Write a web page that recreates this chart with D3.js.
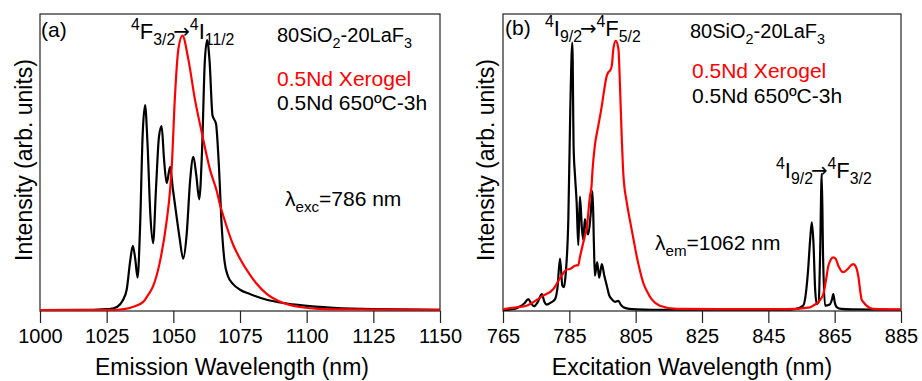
<!DOCTYPE html>
<html>
<head>
<meta charset="utf-8">
<script src="https://cdn.jsdelivr.net/npm/d3@7"></script>
<style>
  body { margin: 0; background: #fff; }
  svg { display: block; font-family: "Liberation Sans", Arial, sans-serif; }
</style>
</head>
<body>
<div id="chart"></div>
<script>
//------------------------------------------------------
// Data (wavelength nm, normalised intensity)
//------------------------------------------------------

const emTicks = [1000, 1025, 1050, 1075, 1100, 1125, 1150];
const exTicks = [765, 785, 805, 825, 845, 865, 885];

// (a) emission, xerogel (red)
const emXerogel = [
  [1000, 0], [1028, 0], [1032, 0.004], [1035, 0.012], [1038.7, 0.03], [1040.5, 0.055],
  [1042.5, 0.09], [1045, 0.18], [1047.5, 0.33], [1048.75, 0.44], [1049.4, 0.53],
  [1050.6, 0.79], [1051.9, 0.967], [1053.4, 1.016], [1055.6, 0.93], [1058.1, 0.78],
  [1060.6, 0.66], [1063.75, 0.52], [1066.3, 0.44], [1067.5, 0.39], [1068.7, 0.35],
  [1072.5, 0.24], [1075, 0.19], [1078.75, 0.13], [1081, 0.1], [1085, 0.06],
  [1091, 0.027], [1097.5, 0.011], [1105, 0.004], [1112, 0.002], [1150, 0.001]
];

// (a) emission, 650C-3h (black)
const emHeat = [
  [1000, 0], [1020, 0.001], [1026, 0.003], [1029, 0.012], [1031, 0.035], [1032.5, 0.075],
  [1033.8, 0.18], [1034.8, 0.238], [1035.7, 0.19], [1036.6, 0.12], [1037.5, 0.3],
  [1038.5, 0.65], [1039.4, 0.759], [1040.3, 0.62], [1041.4, 0.35], [1042.4, 0.248],
  [1043.5, 0.45], [1044.6, 0.64], [1045.6, 0.681], [1046.5, 0.56], [1047.5, 0.47],
  [1048.8, 0.53], [1049.8, 0.45], [1050.9, 0.37], [1052.3, 0.27], [1053.7, 0.19],
  [1055, 0.28], [1056.3, 0.48], [1057.5, 0.567], [1058.6, 0.5], [1059.7, 0.41],
  [1060.8, 0.6], [1061.8, 0.92], [1062.7, 1.0], [1063.6, 0.92], [1064.7, 0.72],
  [1066, 0.69], [1067, 0.55], [1068.2, 0.3], [1069.2, 0.18], [1070.5, 0.125],
  [1072.5, 0.095], [1075, 0.075], [1078.7, 0.059], [1085, 0.038], [1092, 0.025],
  [1097.5, 0.018], [1110, 0.008], [1125, 0.003], [1150, 0.001]
];

// (b) excitation, xerogel (red)
const exXerogel = [
  [765, 0.002], [765.6, 0.004], [769, 0.01], [772.1, 0.016], [777.1, 0.053], [780.2, 0.078],
  [782.2, 0.118], [784.2, 0.15], [785.2, 0.152], [786.7, 0.164], [787.7, 0.166],
  [788.2, 0.196], [789.7, 0.275], [790.2, 0.3], [791.2, 0.42], [791.7, 0.46],
  [792.0, 0.52], [792.7, 0.61], [793.7, 0.68], [794.8, 0.757], [795.2, 0.79],
  [796.3, 0.868], [796.7, 0.88], [797.3, 0.887], [797.8, 0.905], [798.3, 0.97],
  [799.0, 0.997], [799.8, 0.967], [800.3, 0.82], [800.8, 0.64], [801.3, 0.5],
  [802.3, 0.4], [803.3, 0.33], [804.3, 0.265], [805.3, 0.2], [806.3, 0.145],
  [807.3, 0.1], [808.6, 0.065], [809.8, 0.04], [812.3, 0.016], [817.4, 0.004],
  [830, 0.003], [850, 0.003], [857.6, 0.01], [858.5, 0.016], [860.5, 0.035],
  [861.6, 0.06], [862.6, 0.127], [863.1, 0.164], [864.6, 0.195], [865.3, 0.19],
  [866.1, 0.164], [867.6, 0.14], [868.8, 0.15], [870.1, 0.167], [870.6, 0.17],
  [871.4, 0.16], [872.1, 0.127], [873.1, 0.04], [873.6, 0.03], [874.6, 0.016],
  [876.6, 0.004], [885, 0.002]
];

// (b) excitation, 650C-3h (black)
const exHeat = [
  [765, 0], [768, 0.003], [770, 0.012], [771.5, 0.025], [772.6, 0.04], [773.5, 0.025],
  [774.3, 0.014], [775.5, 0.03], [776.7, 0.059], [777.5, 0.03], [778.2, 0.02],
  [779.5, 0.028], [780.7, 0.04], [781.4, 0.08], [782.2, 0.19], [782.9, 0.09],
  [783.4, 0.085], [783.8, 0.12], [784.7, 0.337], [785.3, 0.75], [785.9, 0.99],
  [786.3, 0.6], [786.7, 0.5], [787.2, 0.4], [787.7, 0.24], [788.2, 0.42],
  [788.8, 0.3], [789.2, 0.26], [789.7, 0.337], [790.2, 0.3], [790.7, 0.28],
  [791.4, 0.35], [792.0, 0.44], [792.4, 0.25], [792.7, 0.127], [793.4, 0.177],
  [794.0, 0.12], [794.8, 0.17], [795.5, 0.13], [796.3, 0.09], [797, 0.055],
  [797.8, 0.04], [798.8, 0.03], [799.8, 0.034], [800.5, 0.02], [801.3, 0.01],
  [803, 0.004], [805.3, 0.002], [810, 0.001], [850, 0.001], [853, 0.003],
  [855.5, 0.016], [856.3, 0.06], [857, 0.15], [857.6, 0.26], [858.1, 0.325],
  [858.6, 0.25], [859.1, 0.08], [859.6, 0.022], [860.2, 0.03], [860.6, 0.2],
  [861.1, 0.504], [861.5, 0.2], [862.1, 0.016], [863.5, 0.02], [864.2, 0.04],
  [864.6, 0.059], [865, 0.03], [865.7, 0.01], [867, 0.004], [870, 0.002], [885, 0.001]
];

//------------------------------------------------------
// Helpers
//------------------------------------------------------

const width = 922;
const height = 381;

// text with sub / superscripts, parts = [[str, kind]]
function richText(sel, x, y, parts, size, fill) {
  const t = sel.append("text")
    .attr("x", x)
    .attr("y", y)
    .attr("font-size", size)
    .attr("fill", fill);

  let shift = 0;
  parts.forEach(([str, kind]) => {
    let target = 0;
    let fs = null;
    if (kind === "sub") { target = size * 0.28; fs = size * 0.72; }
    if (kind === "sup") { target = -size * 0.42; fs = size * 0.72; }
    if (kind === "arr") { target = -size * 0.05; fs = size * 0.9; }
    const ts = t.append("tspan")
      .attr("dy", target - shift)
      .text(str);
    if (fs) ts.attr("font-size", fs);
    if (kind === "arr") ts.attr("font-family", "DejaVu Sans, sans-serif").attr("dx", -2);
    shift = target;
  });
  return t;
}

function drawPanel(svg, cfg) {
  const x = d3.scaleLinear().domain(cfg.domain).range([cfg.left, cfg.right]);
  const y = d3.scaleLinear().domain([0, 1]).range([310, 40]);
  const top = 14, bottom = 311;

  const g = svg.append("g");

  // frame
  g.append("rect")
    .attr("x", cfg.left)
    .attr("y", top)
    .attr("width", cfg.right - cfg.left)
    .attr("height", bottom - top)
    .attr("fill", "none")
    .attr("stroke", "#222")
    .attr("stroke-width", 1.2);

  // x axis
  const axis = d3.axisBottom(x)
    .tickValues(cfg.ticks)
    .tickSize(12)
    .tickPadding(6)
    .tickFormat(d3.format("d"));

  const ax = g.append("g")
    .attr("transform", `translate(0,${bottom})`)
    .call(axis);
  ax.select(".domain").remove();
  ax.selectAll(".tick line").attr("stroke", "#222").attr("stroke-width", 1.2);
  ax.selectAll(".tick text")
    .attr("font-size", 20)
    .attr("font-family", "Liberation Sans, Arial, sans-serif")
    .attr("fill", "#000");

  // curves
  const line = d3.line()
    .x(d => x(d[0]))
    .y(d => y(d[1]))
    .curve(d3.curveMonotoneX);

  g.append("path")
    .datum(cfg.black)
    .attr("d", line)
    .attr("fill", "none")
    .attr("stroke", "#000")
    .attr("stroke-width", 2.2)
    .attr("stroke-linejoin", "round");

  g.append("path")
    .datum(cfg.red)
    .attr("d", line)
    .attr("fill", "none")
    .attr("stroke", "#ff0000")
    .attr("stroke-width", 2.2)
    .attr("stroke-linejoin", "round");

  // axis titles
  g.append("text")
    .attr("x", cfg.titleX)
    .attr("y", 375)
    .attr("text-anchor", "middle")
    .attr("font-size", 23)
    .text(cfg.title);

  g.append("text")
    .attr("transform", `translate(${cfg.yLabelX},160) rotate(-90)`)
    .attr("text-anchor", "middle")
    .attr("font-size", 23)
    .text("Intensity (arb. units)");

  // annotations
  cfg.labels.forEach(l => {
    richText(g, l.x, l.y, l.parts, l.size, l.fill || "#000");
  });
}

//------------------------------------------------------
// Chart
//------------------------------------------------------

const svg = d3.select("#chart").append("svg")
  .attr("width", width)
  .attr("height", height)
  .attr("viewBox", [0, 0, width, height]);

const composition = [["80SiO"], ["2", "sub"], ["-20LaF"], ["3", "sub"]];

drawPanel(svg, {
  domain: [1000, 1150],
  left: 40,
  right: 440,
  ticks: emTicks,
  black: emHeat,
  red: emXerogel,
  title: "Emission Wavelength (nm)",
  titleX: 232,
  yLabelX: 32,
  labels: [
    { x: 41, y: 37, size: 21, parts: [["(a)"]] },
    { x: 131, y: 39, size: 22, parts: [["4", "sup"], ["F"], ["3/2", "sub"], ["\u2192", "arr"], ["4", "sup"], ["I"], ["11/2", "sub"]] },
    { x: 277, y: 42, size: 20, parts: composition },
    { x: 277, y: 86, size: 21, fill: "#ff0000", parts: [["0.5Nd Xerogel"]] },
    { x: 277, y: 110, size: 21, parts: [["0.5Nd 650\u00baC-3h"]] },
    { x: 285, y: 206, size: 21, parts: [["\u03bb"], ["exc", "sub"], ["=786 nm"]] }
  ]
});

drawPanel(svg, {
  domain: [765, 885],
  left: 503,
  right: 901,
  ticks: exTicks,
  black: exHeat,
  red: exXerogel,
  title: "Excitation Wavelength (nm)",
  titleX: 692,
  yLabelX: 494,
  labels: [
    { x: 505, y: 35, size: 21, parts: [["(b)"]] },
    { x: 545, y: 36, size: 22, parts: [["4", "sup"], ["I"], ["9/2", "sub"], ["\u2192", "arr"], ["4", "sup"], ["F"], ["5/2", "sub"]] },
    { x: 690, y: 38, size: 20, parts: composition },
    { x: 692, y: 78, size: 21, fill: "#ff0000", parts: [["0.5Nd Xerogel"]] },
    { x: 692, y: 103, size: 21, parts: [["0.5Nd 650\u00baC-3h"]] },
    { x: 776, y: 178, size: 22, parts: [["4", "sup"], ["I"], ["9/2", "sub"], ["\u2192", "arr"], ["4", "sup"], ["F"], ["3/2", "sub"]] },
    { x: 655, y: 250, size: 21, parts: [["\u03bb"], ["em", "sub"], ["=1062 nm"]] }
  ]
});
</script>
</body>
</html>
